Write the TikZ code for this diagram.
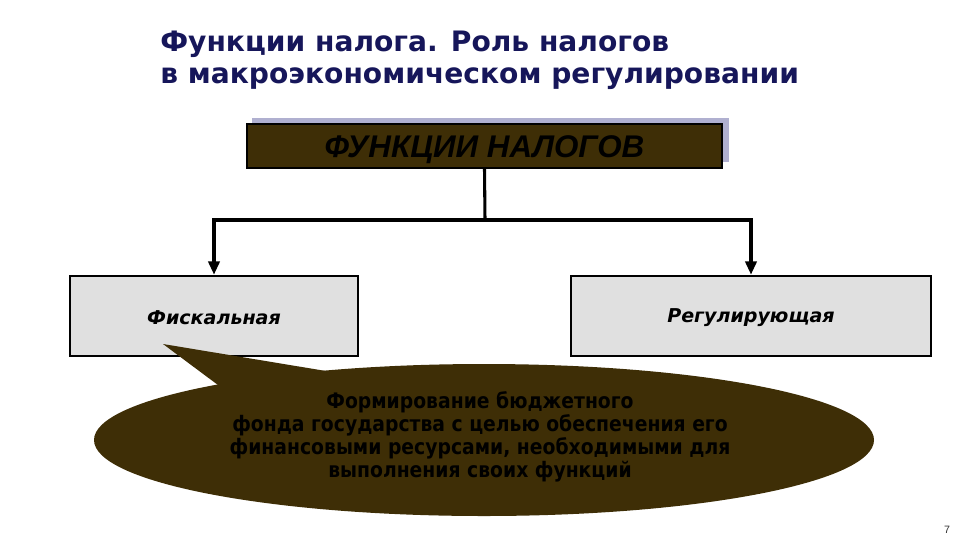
\documentclass[tikz,border=0pt]{standalone}
\usepackage{fontspec}
\setmainfont{DejaVu Sans}
\newfontfamily\arialfont{Liberation Sans}
\newfontfamily\condfont[FakeStretch=0.88]{DejaVu Sans}
\usetikzlibrary{arrows.meta}
\definecolor{titleblue}{RGB}{22,22,90}
\definecolor{darkbrown}{RGB}{62,46,6}
\definecolor{shadowlav}{RGB}{176,176,208}
\definecolor{boxgray}{RGB}{224,224,224}
\tikzset{
  conn/.style={line width=2.3pt, draw=black},
  arr/.style={conn, -{Triangle[width=8.5pt,length=10pt]}},
  subbox/.style={draw=black, line width=2pt, fill=boxgray, minimum width=216pt, minimum height=60pt, inner sep=0pt},
  sublbl/.style={font=\bfseries\itshape\fontsize{14.3}{16}\selectfont, inner sep=0pt},
}
\begin{document}
\begin{tikzpicture}[x=0.75pt,y=-0.75pt]
\useasboundingbox[fill=white] (0,0) rectangle (960,540);
% title
\node[anchor=north west, align=left, text=titleblue, font=\bfseries\fontsize{21.1}{23.5}\selectfont, inner sep=0pt] (title) at (160,31)
  {Функции налога. Роль налогов\\в макроэкономическом регулировании};
% top box
\fill[shadowlav] (252,118) rectangle (729,162);
\node[draw=black, line width=1.2pt, fill=darkbrown, minimum width=356pt, minimum height=33pt, inner sep=0pt] (top) at (484.5,146) {};
\node[font=\arialfont\bfseries\itshape\fontsize{23.5}{26}\selectfont, inner sep=0pt] (toplbl) at ([yshift=-3pt]top.center) {ФУНКЦИИ НАЛОГОВ};
% sub boxes
\node[subbox] (left) at (214,316) {};
\node[sublbl] (leftlbl) at ([yshift=-1.5pt]left.center) {Фискальная};
\node[subbox, minimum width=270pt] (right) at (751,316) {};
\node[sublbl] (rightlbl) at ([yshift=-1.5pt]right.center) {Регулирующая};
% connectors
\coordinate (j) at (485,220);
\draw[conn] (top.south) -- (j);
\draw[arr] (j) -| (left.north);
\draw[arr] (j) -| (right.north);
% callout
\fill[darkbrown] (163,344) -- (222,388) -- (332,372) -- cycle;
\fill[darkbrown] (484,440) ellipse [x radius=390, y radius=76];
\node[align=center, font=\condfont\bfseries\fontsize{16}{17.2}\selectfont, text=black, inner sep=0pt] (calltext) at (480,437)
  {Формирование бюджетного\\фонда государства с целью обеспечения его\\финансовыми ресурсами, необходимыми для\\выполнения своих функций};
% page number
\node[font=\arialfont\fontsize{8}{9}\selectfont, text=black!80] (pg) at (947,530) {7};
\end{tikzpicture}
\end{document}
